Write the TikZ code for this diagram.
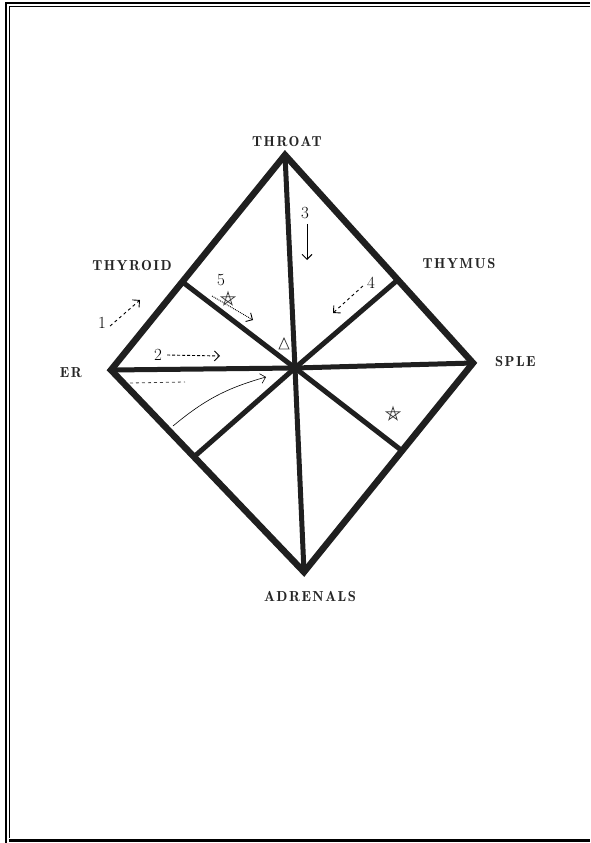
\documentclass[tikz,border=0pt]{standalone}
\usepackage{fontspec}
\newfontfamily\organfont{lmromandemi10-regular.otf}[LetterSpace=10]
\usetikzlibrary{arrows.meta, calc}

\begin{document}
\begin{tikzpicture}[
        x=1pt, y=-1pt,
        edge/.style={line width=6.5pt, line join=miter, draw=black!88},
        spoke/.style={line width=5pt, draw=black!88},
        organ/.style={font=\organfont\fontsize{14.5}{16}\selectfont, inner sep=0pt, text=black!85},
        num/.style={font=\fontsize{17}{19}\selectfont, inner sep=0pt},
        hand/.style={line width=0.9pt, -{Straight Barb[length=5pt, width=10pt]}},
        scrib/.style={line width=0.8pt, draw=black!75}
    ]
    \useasboundingbox (0,0) rectangle (590,843);

    % Frame
    \draw[line width=2.5pt] (6,843) -- (6,3) -- (590,3);
    \draw[line width=1.2pt] (9.5,838) -- (9.5,6.5) -- (590,6.5);
    \draw[line width=3.5pt] (9,840.5) -- (590,840.5);

    % Diamond corners and centre
    \coordinate (top) at (285,155);
    \coordinate (lft) at (111,370);
    \coordinate (rgt) at (473,363);
    \coordinate (bot) at (304,572);
    \coordinate (ctr) at (295,368);
    \coordinate (thy) at ($(lft)!0.41!(top)$);
    \coordinate (thm) at ($(top)!0.6!(rgt)$);
    \coordinate (lowl) at ($(lft)!0.43!(bot)$);
    \coordinate (lowr) at ($(rgt)!0.42!(bot)$);

    % Spokes
    \foreach \p in {top, lft, rgt, bot, thy, thm, lowl, lowr}
        \draw[spoke] (ctr) -- (\p);

    % Edges
    \draw[edge] (top) -- (rgt) -- (bot) -- (lft) -- cycle;

    % Labels
    \node[organ] (throat) at (287,142) {THROAT};
    \node[organ] (thyroid) at (132,266) {THYROID};
    \node[organ] (thymus) at (459,264) {THYMUS};
    \node[organ, anchor=west] (spleen) at (495,362) {SPLE};
    \node[organ, anchor=east] (liver) at (82,373) {ER};
    \node[organ] (adrenals) at (310,597) {ADRENALS};

    % Numbers
    \node[num] (n1) at (102,323) {1};
    \node[num] (n2) at (158,355) {2};
    \node[num] (n3) at (305,213) {3};
    \node[num] (n4) at (371,283) {4};
    \node[num] (n5) at (221,280) {5};

    % Hand arrows
    \coordinate (a1) at (140,300);
    \coordinate (a2) at (220,356);
    \coordinate (a3) at (307,260);
    \coordinate (a4) at (333,313);
    \coordinate (a5s) at (212,296);
    \coordinate (a5) at (253,320);
    \coordinate (c1) at (173,426);
    \coordinate (c2) at (266,377);
    \coordinate (d1) at (130,383);
    \coordinate (d2) at (185,382);
    \coordinate (st1) at (228,299);
    \coordinate (st2) at (393,414);
    \coordinate (tri) at (284,345);

    \draw[hand, dashed] ($(n1.east)+(4,3)$) -- (a1);
    \draw[hand, densely dashed] ($(n2.east)+(5,0)$) -- (a2);
    \draw[hand] ($(n3.south)+(2,5)$) -- (a3);
    \draw[hand, dashed] ($(n4.west)+(-4,3)$) -- (a4);
    \draw[hand, densely dotted] (a5s) -- (a5);
    \draw[hand, line width=0.6pt] (c1) to[bend left=12] (c2);
    \draw[scrib, dashed] (d1) -- (d2);

    % Scribbled marks
    \foreach \s in {st1, st2}
        \draw[scrib] ($(\s)+(270:7)$) -- ($(\s)+(54:7)$) -- ($(\s)+(198:7)$)
            -- ($(\s)+(342:7)$) -- ($(\s)+(126:7)$) -- cycle;
    \draw[scrib] ($(tri)+(0,-7)$) -- ($(tri)+(-5,4)$) -- ($(tri)+(5,4)$) -- cycle;
\end{tikzpicture}
\end{document}
